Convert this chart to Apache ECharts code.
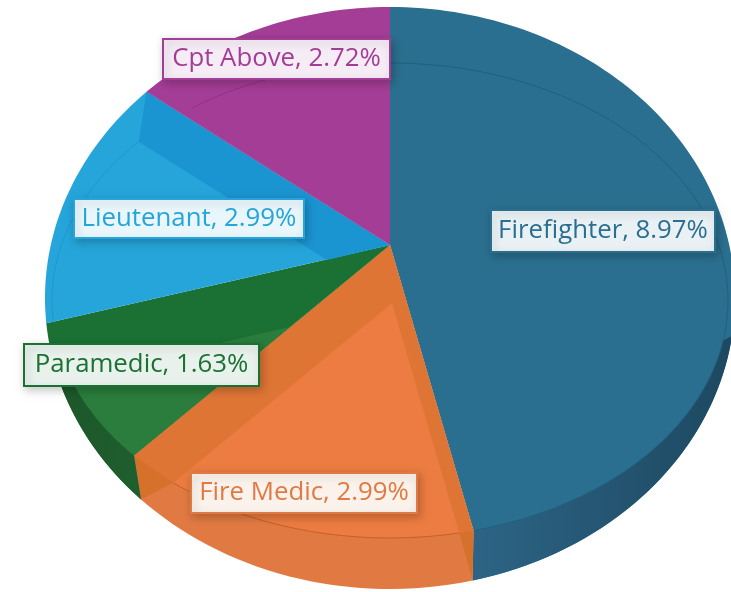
<!DOCTYPE html>
<html>
<head>
<meta charset="utf-8">
<title>Pie</title>
<style>
  html, body { margin: 0; background: #fff; }
  #main { width: 731px; height: 592px; }
</style>
<script src="https://cdn.jsdelivr.net/npm/echarts@6/dist/echarts.min.js"></script>
</head>
<body>
<div id="main"></div>
<script>
var categories = ['Firefighter', 'Fire Medic', 'Paramedic', 'Lieutenant', 'Cpt Above'];
var percents = [8.97, 2.99, 1.63, 2.99, 2.72];

// 3d look of the pie: apex of the slices, the rim ellipse and the outer silhouette
var apex = [390, 245];
var rim = { cx: 390, cy: 300.5, rx: 338, ry: 237.5 };
var outer = { cx: 390, cy: 298, rx: 345, ry: 291 };
var squash = 1.3;

var looks = [
  { base: '#2b6f90', line: '#225f7d', wallFrom: 109, tip: true, wall: ['#1d4860', '#2d6486'] },
  { base: '#e17a42', band: '#de7535', inner: '#ec7c41', shift: [2, 58], line: '#c4612a', tips: '#d6712c' },
  { base: '#1b7134', inner: '#2a7d3c', shift: [-100, 82], wallTo: 244, wall: ['#1f5f2e', '#1d562a'] },
  { base: '#25a5da', endBand: '#1b94d2', shift: [-63, 15], line: '#1f98cf' },
  { base: '#a43d96', line: '#93308a', lineFrom: 312 }
];

// label boxes, left top right bottom
var labelBoxes = [
  [491, 210, 715, 252],
  [191, 473, 417, 513],
  [24, 344, 259, 386],
  [74, 199, 304, 238],
  [163, 39, 390, 79]
];

var total = percents.reduce(function (a, b) { return a + b; }, 0);
var rows = [];
var run = 0;
percents.forEach(function (p, i) {
  rows.push([i, run / total * 360, (run + p) / total * 360]);
  run += p;
});

function dir(deg) {
  var a = deg * Math.PI / 180;
  return [squash * Math.sin(a), -Math.cos(a)];
}

// where the ray from p at angle deg meets the ellipse
function hit(p, deg, e) {
  var d = dir(deg);
  var x = (p[0] - e.cx) / e.rx, y = (p[1] - e.cy) / e.ry;
  var dx = d[0] / e.rx, dy = d[1] / e.ry;
  var a = dx * dx + dy * dy, b = 2 * (x * dx + y * dy), c = x * x + y * y - 1;
  var t = (-b + Math.sqrt(b * b - 4 * a * c)) / (2 * a);
  return [p[0] + t * d[0], p[1] + t * d[1]];
}

function arc(p, e, from, to) {
  var pts = [];
  var n = Math.max(2, Math.ceil(Math.abs(to - from) / 1.5));
  for (var k = 0; k <= n; k++) {
    pts.push(hit(p, from + (to - from) * k / n, e));
  }
  return pts;
}

function isFront(deg) {
  return deg > 120 && deg < 240;
}

// front edges drop down the wall instead of running on along the ray
function foot(deg) {
  var r = hit(apex, deg, rim);
  var x = r[0] + (r[0] < apex[0] ? 7 : -1);
  var u = (x - outer.cx) / outer.rx;
  return [x, outer.cy + outer.ry * Math.sqrt(1 - u * u)];
}

function footAngle(deg) {
  if (!isFront(deg)) return deg;
  var f = foot(deg);
  var a = Math.atan2((f[0] - apex[0]) / squash, -(f[1] - apex[1])) * 180 / Math.PI;
  return a < 0 ? a + 360 : a;
}

function poly(points, fill) {
  return { type: 'polygon', shape: { points: points }, style: { fill: fill } };
}

function mixWhite(hex, keep) {
  var n = parseInt(hex.slice(1), 16);
  var ch = [n >> 16, (n >> 8) & 255, n & 255].map(function (c) {
    return Math.round(255 - (255 - c) * keep);
  });
  return 'rgb(' + ch.join(',') + ')';
}

function renderSlice(params, api) {
  var look = looks[api.value(0)];
  var a0 = api.value(1), a1 = api.value(2);
  var kids = [];
  var pts = [apex];
  var p = look.shift ? [apex[0] + look.shift[0], apex[1] + look.shift[1]] : apex;

  if (isFront(a0)) pts.push(hit(apex, a0, rim));
  pts = pts.concat(arc(apex, outer, footAngle(a0), footAngle(a1)));
  if (isFront(a1)) pts.push(hit(apex, a1, rim));
  kids.push(poly(pts, look.base));

  if (look.wall) {
    var w0 = look.wallFrom || a0, w1 = look.wallTo || a1;
    var top = arc(apex, rim, w0, w1);
    var low = arc(apex, outer, footAngle(w0), footAngle(w1));
    if (look.tip) top[0] = low[0];
    else top[top.length - 1] = low[low.length - 1];
    kids.push({
      type: 'polygon',
      shape: { points: top.concat(low.reverse()) },
      style: {
        fill: new echarts.graphic.LinearGradient(1, 0, 0, 0, [
          { offset: 0, color: look.wall[0] },
          { offset: 1, color: look.wall[1] }
        ])
      }
    });
  }

  if (look.band) {
    kids.push(poly([apex].concat(arc(apex, rim, a0, a1)), look.band));
  }
  if (look.inner) {
    kids.push(poly([p].concat(arc(p, rim, a0, a1)), look.inner));
  }
  if (look.endBand) {
    kids.push(poly([apex, hit(apex, a1, outer), hit(p, a1, rim), p], look.endBand));
  }
  if (look.tips) {
    kids.push(poly([hit(apex, a0, rim), hit(p, a0, rim), foot(a0)], look.tips));
    kids.push(poly([hit(apex, a1, rim), hit(p, a1, rim), foot(a1)], look.tips));
  }
  if (look.line) {
    var linePts = p !== apex ? arc(p, rim, a0, a1) : arc(apex, rim, look.lineFrom || a0, a1);
    kids.push({
      type: 'polyline',
      shape: { points: linePts },
      style: { stroke: look.line, lineWidth: 1, fill: null }
    });
  }

  return { type: 'group', children: kids };
}

function renderLabel(params, api) {
  var i = api.value(0);
  var box = labelBoxes[i];
  var color = looks[i].base;
  return {
    type: 'group',
    children: [
      {
        type: 'rect',
        shape: { x: box[0], y: box[1], width: box[2] - box[0], height: box[3] - box[1] },
        style: {
          fill: mixWhite(color, 0.1),
          stroke: color,
          lineWidth: 2,
          shadowBlur: 9,
          shadowColor: 'rgba(0,0,0,0.22)',
          shadowOffsetX: 2,
          shadowOffsetY: 3
        }
      },
      {
        type: 'text',
        style: {
          x: (box[0] + box[2]) / 2,
          y: (box[1] + box[3]) / 2,
          text: categories[i] + ', ' + percents[i].toFixed(2) + '%',
          fill: color,
          font: '25.8px "Open Sans"',
          align: 'center',
          verticalAlign: 'middle'
        }
      }
    ]
  };
}

var myChart = echarts.init(document.getElementById('main'));
myChart.setOption({
  animation: false,
  backgroundColor: '#fff',
  series: [
    { type: 'custom', coordinateSystem: 'none', silent: true, z: 2, data: rows, renderItem: renderSlice },
    { type: 'custom', coordinateSystem: 'none', silent: true, z: 3, data: rows, renderItem: renderLabel }
  ]
});
</script>
</body>
</html>
